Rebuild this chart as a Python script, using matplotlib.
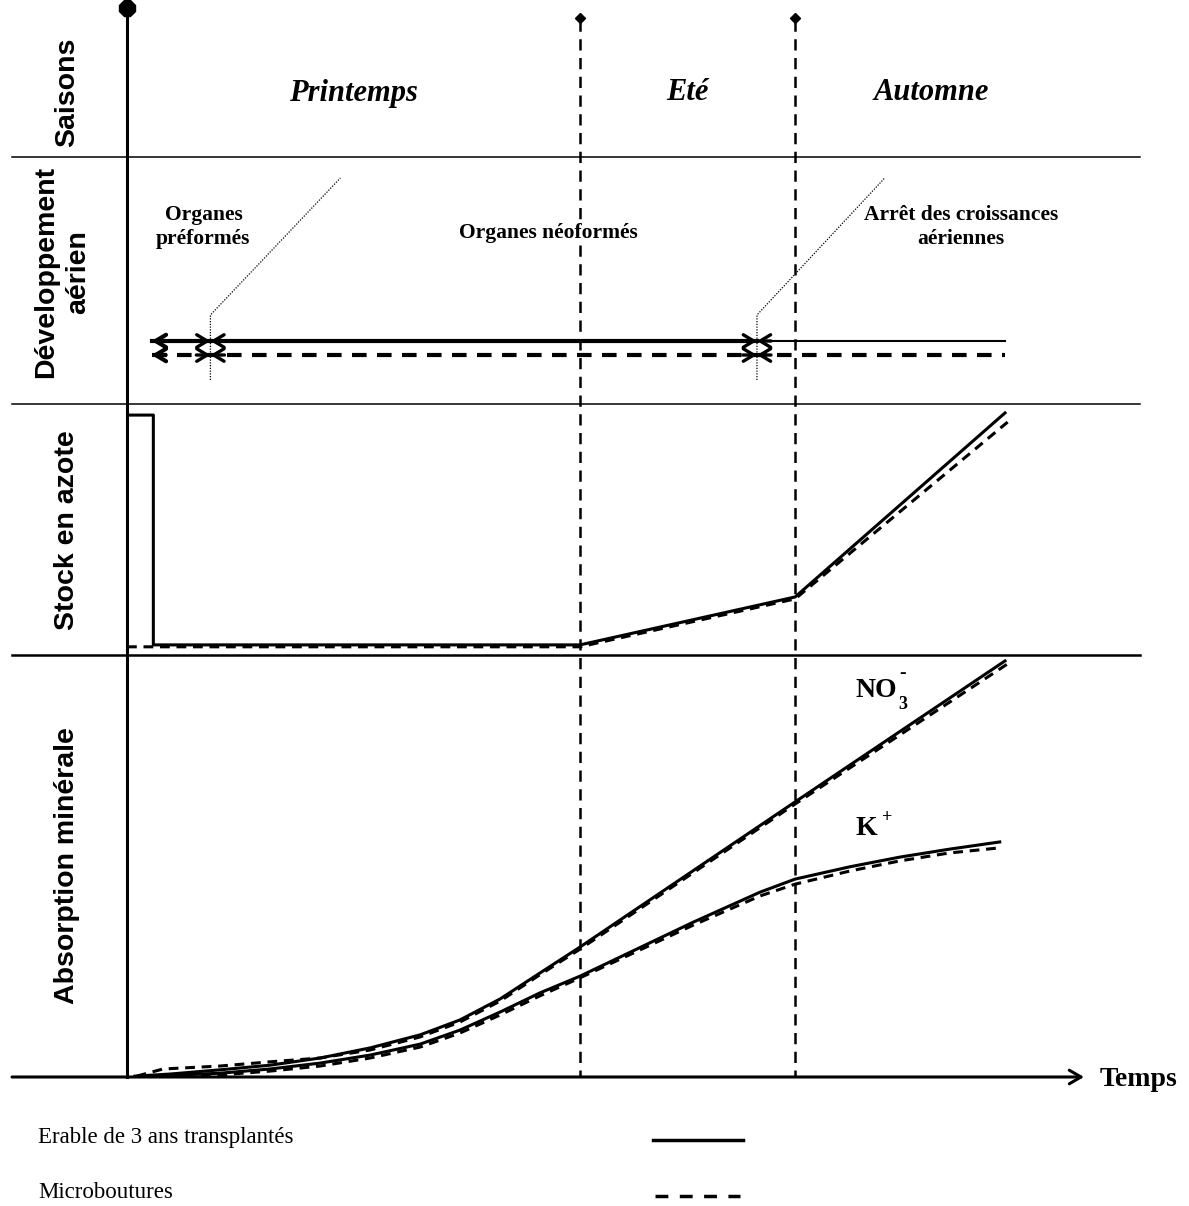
import matplotlib.pyplot as plt

W, H = 1189, 1206
PX_PER_T = 8.78          # horizontal scale of the time axis
X0 = 127                 # pixel position of t = 0
T_MAX = (W - X0) / PX_PER_T

SERIF = 'Liberation Serif'
SANS = 'Liberation Sans'

# season boundaries (time units)
seasons = ['Printemps', 'Eté', 'Automne']
season_bounds = [0.0, 51.6, 76.1, 107.0]

# aerial development phases
dev_bounds = [2.8, 9.5, 71.75, 100.0]
dev_labels = ['Organes\npréformés', 'Organes néoformés', 'Arrêt des croissances\naériennes']

# nitrogen stock
t_stock_erable = [0.0, 3.0, 3.0, 51.6, 76.1, 100.0]
stock_erable = [95.4, 95.4, 0.0, 0.0, 19.9, 96.3]
t_stock_micro = [0.0, 51.6, 76.1, 100.3]
stock_micro = [-0.8, -0.8, 19.1, 92.5]

# mineral uptake
t_no3_erable = [0.9, 4.9, 10.6, 16.3, 22.0, 27.7, 33.4, 37.9, 42.5, 47.0, 51.6, 76.1, 100.0]
no3_erable = [0.2, 0.7, 1.7, 2.8, 4.5, 6.9, 10.0, 13.5, 18.5, 24.6, 30.8, 65.2, 98.6]
t_no3_micro = [1.1, 4.1, 10.6, 16.3, 22.0, 27.7, 33.4, 37.9, 42.5, 47.0, 51.6, 76.1, 100.3]
no3_micro = [0.2, 1.9, 2.6, 3.6, 4.5, 6.4, 9.5, 13.0, 18.0, 24.2, 30.3, 64.7, 97.9]
t_k = [0.9, 10.6, 16.3, 22.0, 27.7, 33.4, 37.9, 42.5, 47.0, 51.6, 64.5, 72.1, 76.1,
       82.3, 88.0, 93.7, 99.4]
k_erable = [0.0, 0.9, 1.9, 3.3, 5.2, 7.8, 11.1, 15.4, 19.9, 23.9, 36.7, 43.8, 46.9,
            49.8, 52.1, 54.0, 55.7]
k_micro = [0.0, 0.5, 1.4, 2.6, 4.5, 7.1, 10.4, 14.7, 19.2, 23.5, 36.0, 42.9, 45.7,
           48.8, 51.2, 53.1, 54.3]

DASH = (0, (3.2, 2.2))

fig = plt.figure(figsize=(W / 100, H / 100), dpi=100)


def panel(top, bottom, ylim):
    ax = fig.add_axes([X0 / W, (H - bottom) / H, (W - X0) / W, (bottom - top) / H])
    ax.set_xlim(0, T_MAX)
    ax.set_ylim(*ylim)
    ax.axis('off')
    ax.patch.set_alpha(0)
    return ax


# background layout in pixel units
bg = fig.add_axes([0, 0, 1, 1])
bg.set_xlim(0, W)
bg.set_ylim(H, 0)
bg.axis('off')

for y, lw in [(157, 1.1), (404, 1.1), (655, 1.8)]:
    bg.plot([12, 1140], [y, y], color='black', lw=lw)

bg.plot([X0, X0], [8, 1077], color='black', lw=2.2)
bg.plot([X0], [8], marker='8', ms=12, color='black')
bg.annotate('', xy=(1084, 1077), xytext=(12, 1077),
            arrowprops=dict(arrowstyle='->,head_length=0.6,head_width=0.35', lw=2.2,
                            color='black', shrinkA=0, shrinkB=0, mutation_scale=14))
bg.text(1100, 1080, 'Temps', fontfamily=SERIF, fontweight='bold', fontsize=20,
        ha='left', va='center')

row_labels = [('Saisons', 67, 92), ('Développement\naérien', 62, 272),
              ('Stock en azote', 67, 530), ('Absorption minérale', 67, 866)]
for txt, x, y in row_labels:
    bg.text(x, y, txt, rotation=90, fontfamily=SANS, fontweight='bold', fontsize=20.5,
            ha='center', va='center', multialignment='center', linespacing=1.3)

# legend
bg.text(38, 1138, 'Erable de 3 ans transplantés', fontfamily=SERIF, fontsize=16.5,
        ha='left', va='center')
bg.text(38, 1192, 'Microboutures', fontfamily=SERIF, fontsize=16.5, ha='left', va='center')
bg.plot([653, 743], [1140, 1140], color='black', lw=2.5)
bg.plot([655, 740], [1196, 1196], color='black', lw=2.5, linestyle=(0, (3.7, 3.3)))

# time axes over the full height (y in pixels)
tax = panel(0, H, (H, 0))

for t in season_bounds[1:3]:
    tax.plot([t, t], [20, 1077], color='black', lw=1.8, linestyle=(0, (4.5, 3)))
    tax.plot([t], [18], marker='D', ms=5, color='black')

for name, a, b in zip(seasons, season_bounds[:-1], season_bounds[1:]):
    tax.text((a + b) / 2, 93, name, fontfamily=SERIF, fontweight='bold', fontstyle='italic',
             fontsize=22, ha='center', va='center')


def head(t, y, direction, lw):
    # short solid arrow ending at t, pointing left (-1) or right (+1)
    tax.annotate('', xy=(t, y), xytext=(t - direction * 1.6, y),
                 arrowprops=dict(arrowstyle='->,head_length=0.75,head_width=0.45', lw=lw,
                                 color='black', shrinkA=0, shrinkB=0, mutation_scale=10))


# development bars: solid (erable), dashed (microboutures)
y_sol, y_dash = 341, 355
tax.plot(dev_bounds[:3], [y_sol] * 3, color='black', lw=3.0)
tax.plot(dev_bounds[2:], [y_sol] * 2, color='black', lw=1.5)
tax.plot(dev_bounds, [y_dash] * 4, color='black', lw=3.0, linestyle=(0, (3.5, 2.5)))
for y in (y_sol, y_dash):
    head(dev_bounds[0], y, -1, 3.0)
    head(dev_bounds[1], y, 1, 2.4)
    head(dev_bounds[1], y, -1, 2.4)
    head(dev_bounds[2], y, 1, 2.4)
    head(dev_bounds[2], y, -1, 2.4)

# leader lines to the phase labels
for t, t_end in [(dev_bounds[1], 24.3), (dev_bounds[2], 86.3)]:
    tax.plot([t, t, t_end], [380, 315, 178], color='black', lw=0.9, linestyle=(0, (1, 1.2)))

dev_pos = [(8.7, 227), (48.0, 233), (95.0, 227)]
for txt, (t, y) in zip(dev_labels, dev_pos):
    tax.text(t, y, txt, fontfamily=SERIF, fontweight='bold', fontsize=15.5,
             ha='center', va='center', multialignment='center', linespacing=1.3,
             bbox=dict(facecolor='white', edgecolor='none', pad=1))

# nitrogen stock panel
sax = panel(404, 655, (-4.2, 100))
sax.plot(t_stock_erable, stock_erable, color='black', lw=2.2)
sax.plot(t_stock_micro, stock_micro, color='black', lw=2.2, linestyle=DASH)

# mineral uptake panel
aax = panel(655, 1077, (0, 100))
aax.plot(t_no3_erable, no3_erable, color='black', lw=2.2)
aax.plot(t_no3_micro, no3_micro, color='black', lw=2.2, linestyle=DASH)
aax.plot(t_k, k_erable, color='black', lw=2.2)
aax.plot(t_k, k_micro, color='black', lw=2.2, linestyle=DASH)

ion_font = dict(fontfamily=SERIF, fontweight='bold', color='black')
aax.text(83.0, 91.5, 'NO', fontsize=20, ha='left', va='center', **ion_font)
aax.text(87.9, 88.3, '3', fontsize=13, ha='left', va='center', **ion_font)
aax.text(88.0, 95.5, '-', fontsize=14, ha='left', va='center', **ion_font)
aax.text(83.0, 59.0, 'K', fontsize=20, ha='left', va='center', **ion_font)
aax.text(86.0, 61.5, '+', fontsize=13, ha='left', va='center', **ion_font)

fig.savefig('out.png', dpi=100)
